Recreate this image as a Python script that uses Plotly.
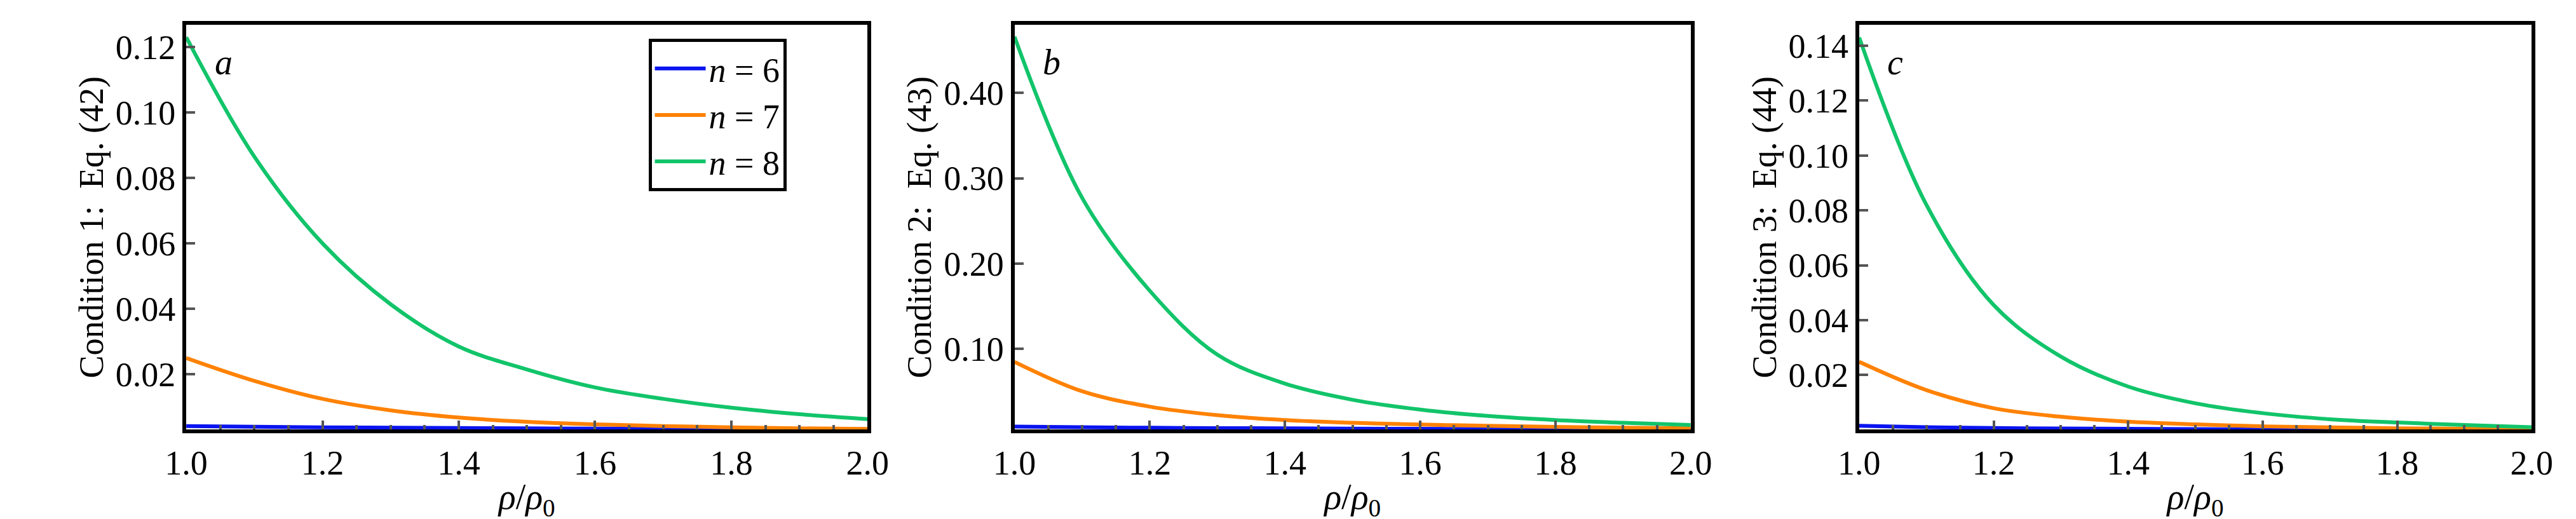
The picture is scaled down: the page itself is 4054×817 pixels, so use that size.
import plotly.graph_objects as go

x = [1.0, 1.1, 1.2, 1.3, 1.4, 1.5, 1.6, 1.7, 1.8, 1.9, 2.0]

a_n6 = [0.0042, 0.0040, 0.0038, 0.0037, 0.0036, 0.0035, 0.0034, 0.0034, 0.0033, 0.0033, 0.0032]
a_n7 = [0.0250, 0.0180, 0.0125, 0.0090, 0.0068, 0.0055, 0.0047, 0.0042, 0.0038, 0.0035, 0.0033]
a_n8 = [0.1230, 0.0865, 0.0600, 0.0414, 0.0285, 0.0215, 0.0160, 0.0125, 0.0098, 0.0078, 0.0063]

b_n6 = [0.0086, 0.0078, 0.0072, 0.0068, 0.0065, 0.0062, 0.0059, 0.0057, 0.0055, 0.0052, 0.0050]
b_n7 = [0.0845, 0.0500, 0.0320, 0.0220, 0.0162, 0.0130, 0.0110, 0.0095, 0.0082, 0.0073, 0.0066]
b_n8 = [0.4660, 0.2770, 0.1680, 0.0930, 0.0590, 0.0400, 0.0285, 0.0210, 0.0162, 0.0130, 0.0105]

c_n6 = [0.0015, 0.0010, 0.0007, 0.0005, 0.0004, 0.0003, 0.0002, 0.0002, 0.0001, 0.0001, 0.0001]
c_n7 = [0.0248, 0.0145, 0.0079, 0.0048, 0.0030, 0.0020, 0.0013, 0.0009, 0.0006, 0.0004, 0.0003]
c_n8 = [0.1430, 0.0820, 0.0455, 0.0267, 0.0158, 0.0097, 0.0061, 0.0039, 0.0027, 0.0018, 0.0010]

y_titles = ["Condition 1:  Eq. (42)", "Condition 2:  Eq. (43)", "Condition 3:  Eq. (44)"]
panel_labels = ["a", "b", "c"]
x_ticks = [1.0, 1.2, 1.4, 1.6, 1.8, 2.0]
a_ticks = [0.02, 0.04, 0.06, 0.08, 0.10, 0.12]
b_ticks = [0.10, 0.20, 0.30, 0.40]
c_ticks = [0.02, 0.04, 0.06, 0.08, 0.10, 0.12, 0.14]
names = ["<i>n</i> = 6", "<i>n</i> = 7", "<i>n</i> = 8"]
colors = ["#0A14F0", "#FF8205", "#12C46A"]

panels = [(a_n6, a_n7, a_n8), (b_n6, b_n7, b_n8), (c_n6, c_n7, c_n8)]
tick_sets = [a_ticks, b_ticks, c_ticks]
yranges = [[0.0031, 0.1268], [0.0050, 0.4800], [0.0001, 0.1476]]
xdomains = [[0.063, 0.332], [0.390, 0.657], [0.7235, 0.989]]

FONT = "Liberation Serif"
fig = go.Figure()
for i, series in enumerate(panels):
    xa = "x" if i == 0 else f"x{i+1}"
    ya = "y" if i == 0 else f"y{i+1}"
    for j, s in enumerate(series):
        fig.add_trace(go.Scatter(x=x, y=s, mode="lines", name=names[j],
                                 line=dict(color=colors[j], width=6, shape="spline", smoothing=1.0),
                                 xaxis=xa, yaxis=ya, showlegend=(i == 0)))
    axkw = dict(showline=True, linecolor="black", linewidth=6, mirror=True,
                ticks="inside", tickcolor="#555", tickwidth=4, ticklen=14,
                showgrid=False, zeroline=False,
                tickfont=dict(family=FONT, size=54, color="black"))
    lay_x = dict(axkw, domain=xdomains[i], range=[1.0, 2.0], tickvals=x_ticks,
                 ticktext=[f"{v:.1f}" for v in x_ticks], anchor=ya,
                 minor=dict(ticks="inside", ticklen=7, tickcolor="#555", dtick=0.05),
                 title=dict(text="<i>ρ</i>/<i>ρ</i><sub>0</sub>",
                            font=dict(family=FONT, size=56, color="black"), standoff=6))
    lay_y = dict(axkw, domain=[0.182, 0.962], range=yranges[i], tickvals=tick_sets[i],
                 ticktext=[f"{v:.2f}" for v in tick_sets[i]], anchor=xa,
                 title=dict(text=y_titles[i], font=dict(family=FONT, size=54, color="black"),
                            standoff=4))
    fig.layout[("xaxis" if i == 0 else f"xaxis{i+1}")] = lay_x
    fig.layout[("yaxis" if i == 0 else f"yaxis{i+1}")] = lay_y
    fig.add_annotation(text=f"<i>{panel_labels[i]}</i>", xref=f"{xa} domain", yref=f"{ya} domain",
                       x=0.04, y=0.96, showarrow=False, xanchor="left", yanchor="top",
                       font=dict(family=FONT, size=56, color="black"))

fig.update_layout(width=4054, height=817, margin=dict(l=0, r=0, t=0, b=0),
                  plot_bgcolor="white", paper_bgcolor="white",
                  legend=dict(x=0.2455, y=0.935, xanchor="left", yanchor="top",
                              bordercolor="black", borderwidth=5, bgcolor="white",
                              font=dict(family=FONT, size=54, color="black"),
                              itemwidth=80, tracegroupgap=0))
fig.write_html("out.html")
